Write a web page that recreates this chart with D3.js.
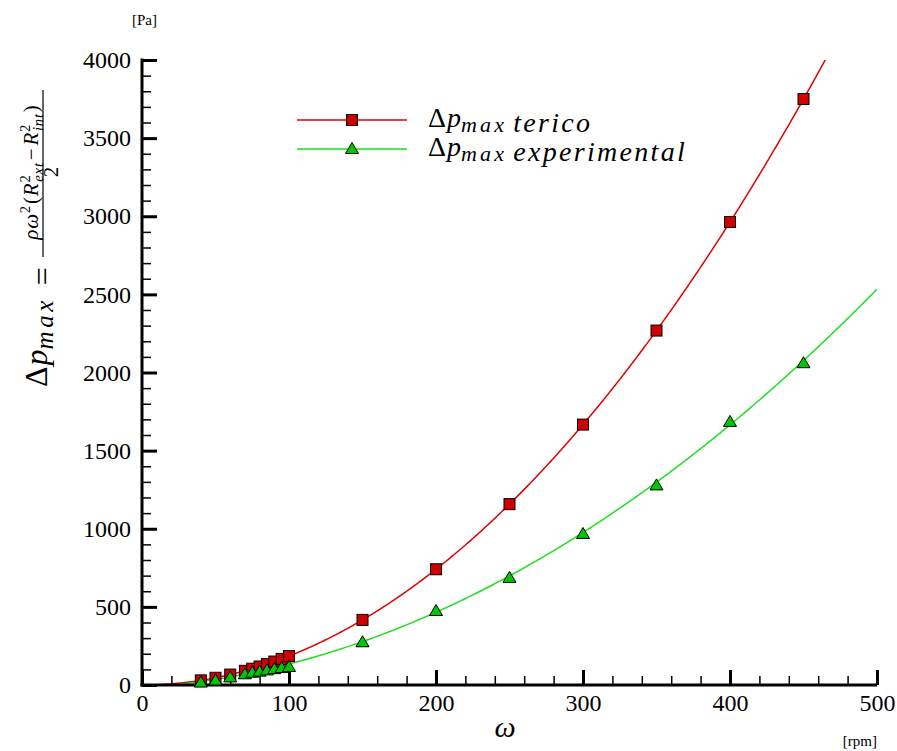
<!DOCTYPE html>
<html>
<head>
<meta charset="utf-8">
<script src="https://cdn.jsdelivr.net/npm/d3@7/dist/d3.min.js"></script>
<style>
  html, body { margin: 0; padding: 0; background: #fff; }
  svg text, svg tspan { font-family: "Liberation Serif", "Times New Roman", serif; fill: #000; }
  .it { font-style: italic; }
</style>
</head>
<body>
<svg id="chart" width="897" height="751"></svg>
<script>
// Rotational speed (rpm) at each measurement
const omega = [40, 50, 60, 70, 75, 80, 85, 90, 95, 100, 150, 200, 250, 300, 350, 400, 450];
// Theoretical maximum pressure difference (Pa)
const dpTheory = [29.6, 46.3, 66.7, 90.7, 104.2, 118.5, 133.8, 150.0, 167.1, 185.2,
                  416.7, 740.7, 1157.4, 1666.7, 2268.5, 2963.0, 3750.0];
// Measured maximum pressure difference (Pa)
const dpExperimental = [22, 35, 55, 75, 85, 92, 100, 108, 115, 122,
                        280, 480, 692, 973, 1284, 1690, 2066];
const xTicks = [0, 100, 200, 300, 400, 500];
const yTicks = [0, 500, 1000, 1500, 2000, 2500, 3000, 3500, 4000];

const SERIF = '"Liberation Serif", "Times New Roman", serif';
const svg = d3.select("#chart");
const x = d3.scaleLinear().domain([0, 500]).range([142, 877]);
const y = d3.scaleLinear().domain([0, 4000]).range([685, 60]);

// Least-squares polynomial fit used for the trend curves
function polyFit(xs, ys, deg) {
  const n = deg + 1;
  const A = Array.from({length: n}, () => new Array(n + 1).fill(0));
  xs.forEach((xv, k) => {
    for (let i = 0; i < n; i++) {
      for (let j = 0; j < n; j++) A[i][j] += Math.pow(xv, i + j);
      A[i][n] += ys[k] * Math.pow(xv, i);
    }
  });
  for (let c = 0; c < n; c++) {
    let p = c;
    for (let r = c + 1; r < n; r++) if (Math.abs(A[r][c]) > Math.abs(A[p][c])) p = r;
    [A[c], A[p]] = [A[p], A[c]];
    for (let r = 0; r < n; r++) {
      if (r === c) continue;
      const f = A[r][c] / A[c][c];
      for (let k = c; k <= n; k++) A[r][k] -= f * A[c][k];
    }
  }
  const coef = A.map((row, i) => row[n] / row[i]);
  return v => coef.reduce((s, cf, i) => s + cf * Math.pow(v, i), 0);
}

const fitTheory = polyFit(omega, dpTheory, 2);
const fitExp = polyFit(omega, dpExperimental, 2);

svg.append("defs").append("clipPath").attr("id", "plotClip")
  .append("rect").attr("x", x(0)).attr("y", y(4000))
  .attr("width", x(500) - x(0)).attr("height", y(0) - y(4000));

const samples = d3.range(0, 500.5, 1);
const line = f => d3.line().x(d => x(d)).y(d => y(f(d)))(samples);

const curves = svg.append("g").attr("clip-path", "url(#plotClip)");
curves.append("path").attr("d", line(fitTheory))
  .attr("fill", "none").attr("stroke", "#e00000").attr("stroke-width", 1.5);
curves.append("path").attr("d", line(fitExp))
  .attr("fill", "none").attr("stroke", "#22dd22").attr("stroke-width", 1.5);

// Marker shapes
const SQ = 11, TW = 13, TH = 11;
function square(g, cx, cy) {
  g.append("rect").attr("x", cx - SQ / 2).attr("y", cy - SQ / 2)
    .attr("width", SQ).attr("height", SQ)
    .attr("fill", "#d00000").attr("stroke", "#000").attr("stroke-width", 1);
}
function triangle(g, cx, cy) {
  g.append("path")
    .attr("d", `M${cx},${cy - TH / 2}L${cx + TW / 2},${cy + TH / 2}L${cx - TW / 2},${cy + TH / 2}Z`)
    .attr("fill", "#00c800").attr("stroke", "#000").attr("stroke-width", 1);
}

// Axes
function styleAxis(g) {
  g.attr("font-family", null).attr("font-size", null);
  g.select(".domain").attr("stroke", "#000").attr("stroke-width", 3);
  g.selectAll(".tick line").attr("stroke", "#000").attr("stroke-width", 3);
  g.selectAll("text").style("font-family", SERIF).style("font-size", "24px").attr("fill", "#000");
}

const yMinor = svg.append("g").attr("transform", `translate(${x(0)},0)`)
  .call(d3.axisLeft(y).tickValues(d3.range(0, 4001, 100)).tickSizeInner(-9).tickSizeOuter(0).tickFormat(""));
yMinor.select(".domain").remove();
yMinor.selectAll(".tick line").attr("stroke", "#000").attr("stroke-width", 1.5);

const xMinor = svg.append("g").attr("transform", `translate(0,${y(0)})`)
  .call(d3.axisBottom(x).tickValues(d3.range(0, 501, 20)).tickSizeInner(-9).tickSizeOuter(0).tickFormat(""));
xMinor.select(".domain").remove();
xMinor.selectAll(".tick line").attr("stroke", "#000").attr("stroke-width", 1.5);

const yAxis = svg.append("g").attr("transform", `translate(${x(0)},0)`)
  .call(d3.axisLeft(y).tickValues(yTicks).tickSizeInner(-15).tickSizeOuter(0).tickPadding(11).tickFormat(d3.format("d")));
styleAxis(yAxis);

const xAxis = svg.append("g").attr("transform", `translate(0,${y(0)})`)
  .call(d3.axisBottom(x).tickValues(xTicks).tickSizeInner(-15).tickSizeOuter(0).tickPadding(9).tickFormat(d3.format("d")));
styleAxis(xAxis);
xAxis.select(".domain").attr("d", `M${x(0) - 1.5},0H${x(500)}`);
yAxis.select(".domain").attr("d", `M0,${y(0) + 1.5}V${y(4000) - 1.5}`);

// Data markers
const marks = svg.append("g");
omega.forEach((w, i) => square(marks, x(w), y(dpTheory[i])));
omega.forEach((w, i) => triangle(marks, x(w), y(dpExperimental[i])));

// Units
svg.append("text").attr("x", 132).attr("y", 25).style("font-size", "15px").text("[Pa]");
svg.append("text").attr("x", 877).attr("y", 746).style("font-size", "15px").attr("text-anchor", "end").text("[rpm]");

// x-axis title
svg.append("text").attr("class", "it").attr("x", 505).attr("y", 737)
  .style("font-size", "30px").attr("text-anchor", "middle").text("ω");

// Writes Δp_max into a text element
function dpMax(t, subSize, spacing, drop) {
  t.append("tspan").style("font-style", "normal").text("Δ");
  t.append("tspan").attr("class", "it").attr("dx", 1).text("p");
  t.append("tspan").attr("class", "it").style("font-size", subSize + "px")
    .style("letter-spacing", spacing + "px").attr("dy", drop).text("max");
  t.append("tspan").attr("dy", -drop).text("");
}

// Legend
const legend = svg.append("g");
[{y: 120, kind: "sq", color: "#e00000", label: "terico"},
 {y: 149, kind: "tri", color: "#22dd22", label: "experimental"}].forEach(e => {
  legend.append("line").attr("x1", 297).attr("x2", 407).attr("y1", e.y).attr("y2", e.y)
    .attr("stroke", e.color).attr("stroke-width", 1.5);
  if (e.kind === "sq") square(legend, 352, e.y); else triangle(legend, 352, e.y - 1);
  const t = legend.append("text").attr("x", 428).attr("y", e.y + 7).style("font-size", "28px");
  dpMax(t, 22, 3.2, 5);
  t.append("tspan").attr("class", "it").attr("dx", 6).style("letter-spacing", "2.3px").text(e.label);
});

// y-axis title: Δp_max = ρω²(R²_ext − R²_int) / 2
const yl = svg.append("g").attr("transform", "translate(47,387) rotate(-90)");
const main = yl.append("text").attr("x", 0).attr("y", 0).style("font-size", "32px");
dpMax(main, 25, 3.5, 6);
main.append("tspan").attr("dx", 12).text("=");

const fs = 21;
const fracMid = 172;
const num = yl.append("text").attr("y", -9).style("font-size", fs + "px")
  .style("letter-spacing", "0.8px").attr("text-anchor", "middle").attr("x", 387 - fracMid);
num.append("tspan").attr("class", "it").text("ρω");
num.append("tspan").style("font-size", (fs * 0.7) + "px").attr("dy", -fs * 0.4).text("2");
num.append("tspan").attr("dy", fs * 0.4).attr("dx", 1).text("(");
num.append("tspan").attr("class", "it").text("R");
num.append("tspan").style("font-size", (fs * 0.7) + "px").attr("dy", -fs * 0.4).text("2");
num.append("tspan").attr("class", "it").style("font-size", (fs * 0.7) + "px").attr("dx", -fs * 0.35).attr("dy", fs * 0.65).text("ext");
num.append("tspan").attr("dy", -fs * 0.25).attr("dx", 2).text("\u2212");
num.append("tspan").attr("class", "it").attr("dx", 2).text("R");
num.append("tspan").style("font-size", (fs * 0.7) + "px").attr("dy", -fs * 0.4).text("2");
num.append("tspan").attr("class", "it").style("font-size", (fs * 0.7) + "px").attr("dx", -fs * 0.35).attr("dy", fs * 0.65).text("int");
num.append("tspan").attr("dy", -fs * 0.25).attr("dx", 1).text(")");

yl.append("line").attr("x1", 387 - 257).attr("x2", 387 - 90).attr("y1", -4).attr("y2", -4)
  .attr("stroke", "#000").attr("stroke-width", 1.2);
yl.append("text").attr("x", 387 - fracMid).attr("y", 11).style("font-size", "21px")
  .attr("text-anchor", "middle").text("2");
</script>
</body>
</html>
